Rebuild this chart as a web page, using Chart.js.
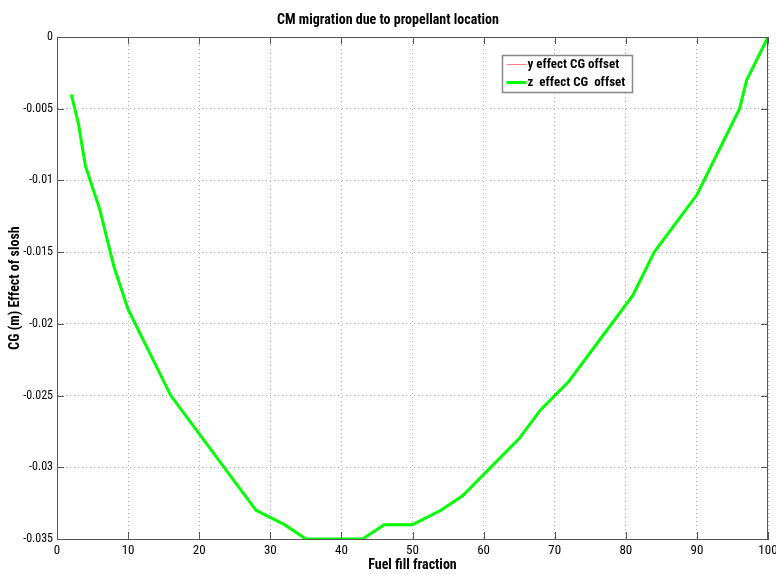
<!DOCTYPE html>
<html>
<head>
<meta charset="utf-8">
<script src="https://cdn.jsdelivr.net/npm/chart.js@4"></script>
<style>
  html, body { margin: 0; padding: 0; background: #fff; }
  #wrap { width: 776px; height: 574px; }
</style>
</head>
<body>
<div id="wrap"><canvas id="cgChart" width="776" height="574"></canvas></div>
<script>
// fuel fill fraction (x) and CG offsets (m)
const fillFraction = [2, 3, 4, 6, 8, 10, 16, 28, 32, 35, 43, 46, 50, 54, 57, 65, 68, 72, 81, 84, 90, 96, 97, 100];
const zEffect = [-0.004, -0.006, -0.009, -0.012, -0.016, -0.019, -0.025, -0.033, -0.034, -0.035, -0.035, -0.034, -0.034, -0.033, -0.032, -0.028, -0.026, -0.024, -0.018, -0.015, -0.011, -0.005, -0.003, 0];
const yEffect = []; // not visible in the plot, only in the legend

const seriesLabels = ["y effect CG offset", "z  effect CG  offset"];
const seriesColors = ["#ff8080", "#00ff00"];

const cond = "'Roboto Condensed', 'Open Sans Condensed', sans-serif";
const axisGrey = "#555";

function points(xs, ys) {
  return ys.map(function (v, i) { return { x: xs[i], y: v }; });
}

// MATLAB style box: top/right border and inward ticks
const boxPlugin = {
  id: "matlabBox",
  afterDraw: function (chart) {
    const ctx = chart.ctx;
    const a = chart.chartArea;
    const xs = chart.scales.x;
    const ys = chart.scales.y;
    ctx.save();
    ctx.strokeStyle = axisGrey;
    ctx.lineWidth = 1;
    ctx.beginPath();
    ctx.moveTo(a.left, a.top + 0.5);
    ctx.lineTo(a.right, a.top + 0.5);
    ctx.moveTo(a.right - 0.5, a.top);
    ctx.lineTo(a.right - 0.5, a.bottom);
    xs.ticks.forEach(function (t) {
      const px = Math.round(xs.getPixelForValue(t.value)) + 0.5;
      ctx.moveTo(px, a.bottom);
      ctx.lineTo(px, a.bottom - 7);
      ctx.moveTo(px, a.top);
      ctx.lineTo(px, a.top + 7);
    });
    ys.ticks.forEach(function (t) {
      const py = Math.round(ys.getPixelForValue(t.value)) + 0.5;
      ctx.moveTo(a.left, py);
      ctx.lineTo(a.left + 7, py);
      ctx.moveTo(a.right, py);
      ctx.lineTo(a.right - 7, py);
    });
    ctx.stroke();
    ctx.restore();
  },
};

// legend box inside the plot, top right
const legendPlugin = {
  id: "insideLegend",
  afterDraw: function (chart) {
    const ctx = chart.ctx;
    const left = 502.5, top = 55.5, w = 130, h = 37;
    ctx.save();
    ctx.fillStyle = "#fff";
    ctx.fillRect(left, top, w, h);
    ctx.strokeStyle = "#888";
    ctx.lineWidth = 1.5;
    ctx.strokeRect(left, top, w, h);
    ctx.font = "bold 13px " + cond;
    ctx.textBaseline = "middle";
    ctx.fillStyle = "#000";
    chart.data.datasets.forEach(function (ds, i) {
      const y = top + 9 + i * 18;
      ctx.strokeStyle = ds.borderColor;
      ctx.lineWidth = ds.borderWidth;
      ctx.beginPath();
      ctx.moveTo(left + 4, y);
      ctx.lineTo(left + 24, y);
      ctx.stroke();
      ctx.fillText(ds.label, left + 25, y);
    });
    ctx.restore();
  },
};

const ctx = document.getElementById("cgChart").getContext("2d");

new Chart(ctx, {
  type: "line",
  data: {
    datasets: [
      {
        label: seriesLabels[0],
        data: points(fillFraction, yEffect),
        borderColor: seriesColors[0],
        borderWidth: 1,
        pointRadius: 0,
        tension: 0,
      },
      {
        label: seriesLabels[1],
        data: points(fillFraction, zEffect),
        borderColor: seriesColors[1],
        borderWidth: 3,
        pointRadius: 0,
        tension: 0,
      },
    ],
  },
  options: {
    responsive: false,
    animation: false,
    layout: { padding: 0 },
    plugins: {
      legend: { display: false },
      tooltip: { enabled: false },
      title: {
        display: true,
        text: "CM migration due to propellant location",
        color: "#000",
        font: { family: cond, size: 14, weight: "bold", lineHeight: 1.2 },
        padding: { top: 12, bottom: 8.2 },
      },
    },
    scales: {
      x: {
        type: "linear",
        min: 0,
        max: 100,
        ticks: {
          stepSize: 10,
          color: "#000",
          font: { family: cond, size: 13 },
          padding: 4,
          maxRotation: 0,
        },
        grid: { color: "#aaa", drawTicks: false, lineWidth: 1 },
        border: { color: axisGrey, width: 1, dash: [1, 3] },
        title: {
          display: true,
          text: "Fuel fill fraction",
          color: "#000",
          font: { family: cond, size: 14, weight: "bold" },
          padding: { top: 0, bottom: 0 },
        },
        afterFit: function (s) {
          s.height = 35;
          s.paddingLeft = 0;
          s.paddingRight = 8;
        },
      },
      y: {
        min: -0.035,
        max: 0,
        ticks: {
          stepSize: 0.005,
          color: "#000",
          font: { family: cond, size: 12 },
          padding: 4,
          callback: function (v) { return String(+v.toFixed(3)); },
        },
        grid: { color: "#aaa", drawTicks: false, lineWidth: 1 },
        border: { color: axisGrey, width: 1, dash: [1, 3] },
        title: {
          display: true,
          text: "CG (m) Effect of slosh",
          color: "#000",
          font: { family: cond, size: 14, weight: "bold" },
          padding: { top: 7, bottom: 0 },
        },
        afterFit: function (s) { s.width = 57; },
      },
    },
  },
  plugins: [boxPlugin, legendPlugin],
});
</script>
</body>
</html>
